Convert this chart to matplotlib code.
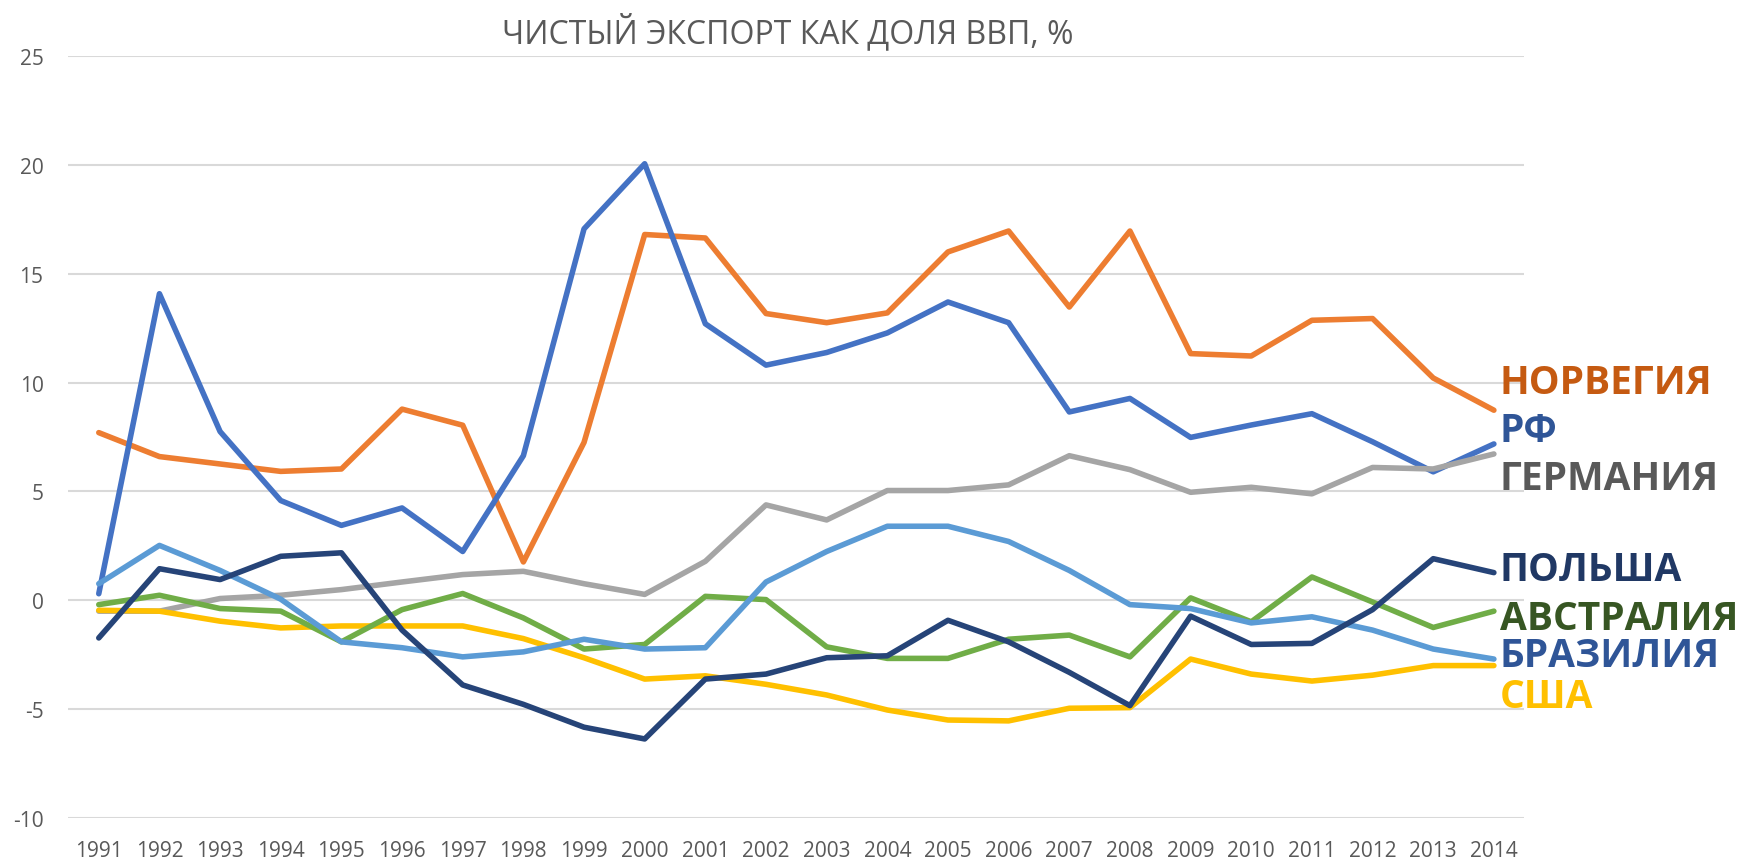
import numpy as np
import matplotlib.pyplot as plt

years = list(range(1991, 2015))

rf = [0.3, 14.08, 7.75, 4.58, 3.44, 4.24, 2.24, 6.64, 17.06, 20.05, 12.7, 10.8,
      11.38, 12.28, 13.7, 12.75, 8.65, 9.27, 7.48, 8.05, 8.57, 7.28, 5.9, 7.18]
norway = [7.7, 6.6, 6.26, 5.92, 6.03, 8.78, 8.04, 1.76, 7.25, 16.8, 16.64, 13.17,
          12.75, 13.2, 16.0, 16.96, 13.47, 16.96, 11.33, 11.22, 12.86, 12.94, 10.21, 8.73]
germany = [-0.5, -0.5, 0.08, 0.23, 0.49, 0.84, 1.18, 1.33, 0.76, 0.27, 1.79, 4.38,
           3.69, 5.04, 5.04, 5.3, 6.64, 6.0, 4.96, 5.19, 4.89, 6.1, 6.03, 6.72]
brazil = [0.76, 2.52, 1.37, 0.05, -1.91, -2.18, -2.6, -2.37, -1.79, -2.24, -2.18, 0.84,
          2.24, 3.4, 3.4, 2.7, 1.37, -0.2, -0.38, -1.04, -0.76, -1.37, -2.24, -2.7]
australia = [-0.2, 0.23, -0.38, -0.5, -1.91, -0.43, 0.31, -0.81, -2.24, -2.03, 0.18, 0.03,
             -2.14, -2.67, -2.67, -1.79, -1.6, -2.6, 0.11, -0.99, 1.07, -0.08, -1.25, -0.5]
poland = [-1.73, 1.45, 0.95, 2.02, 2.18, -1.37, -3.89, -4.78, -5.83, -6.37, -3.62, -3.39,
          -2.64, -2.55, -0.92, -1.91, -3.31, -4.84, -0.73, -2.03, -1.98, -0.43, 1.91, 1.27]
usa = [-0.46, -0.5, -0.96, -1.27, -1.18, -1.18, -1.18, -1.76, -2.64, -3.62, -3.47, -3.86,
       -4.35, -5.04, -5.5, -5.54, -4.96, -4.93, -2.7, -3.39, -3.71, -3.44, -3.0, -3.0]

# series: (values, line colour, label, label colour, label y)
series = [
    (norway, '#ED7D31', 'НОРВЕГИЯ', '#C55A11', 10.0),
    (rf, '#4472C4', 'РФ', '#2F5597', 7.8),
    (germany, '#A5A5A5', 'ГЕРМАНИЯ', '#595959', 5.6),
    (usa, '#FFC000', 'США', '#FFC000', -4.4),
    (australia, '#70AD47', 'АВСТРАЛИЯ', '#375623', -0.85),
    (brazil, '#5B9BD5', 'БРАЗИЛИЯ', '#2F5597', -2.55),
    (poland, '#264478', 'ПОЛЬША', '#203864', 1.4),
]

plt.rcParams['font.family'] = ['Open Sans', 'DejaVu Sans']
plt.rcParams['axes.unicode_minus'] = False

fig = plt.figure(figsize=(17.55, 8.62), dpi=100)
ax = fig.add_axes([0.039, 0.0499, 0.8295, 0.884])

for vals, col, lab, lcol, ly in series:
    ax.plot(years, vals, color=col, linewidth=4.0, solid_capstyle='round',
            solid_joinstyle='round')
    ax.text(2014.1, ly, lab, color=lcol, fontsize=28, fontweight='bold',
            ha='left', va='center', clip_on=False)

ax.set_xlim(1990.5, 2014.5)
ax.set_ylim(-10, 25)
ax.set_xticks(years)
ax.set_xticklabels([str(y) for y in years])
ax.set_yticks(np.arange(-10, 26, 5))
ax.grid(axis='y', color='#D9D9D9', linewidth=1.5)
ax.set_axisbelow(True)
for s in ax.spines.values():
    s.set_visible(False)
ax.tick_params(length=0, labelsize=15, labelcolor='#595959')
ax.tick_params(axis='x', pad=16)
ax.tick_params(axis='y', pad=18)

fig.text(0.449, 0.962, 'ЧИСТЫЙ ЭКСПОРТ КАК ДОЛЯ ВВП, %', ha='center', va='center',
         fontsize=23, color='#595959')

fig.savefig('out.png', dpi=100)
